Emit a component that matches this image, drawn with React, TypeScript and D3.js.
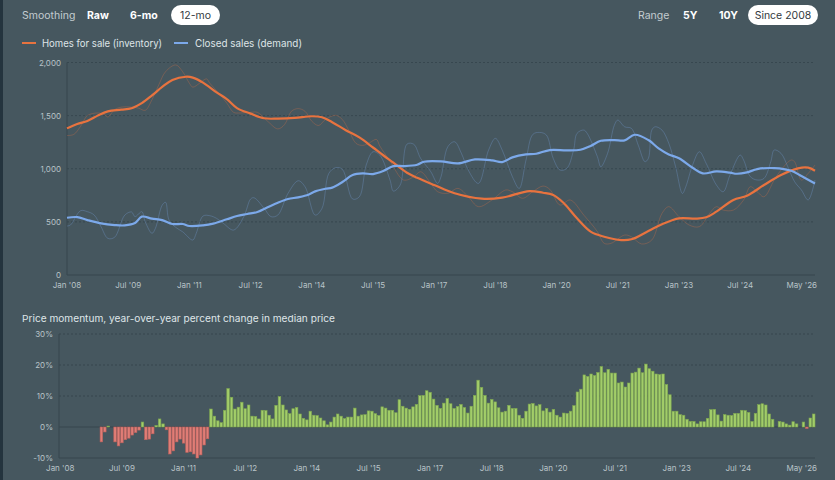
import * as d3 from 'd3';

// months counted from Jan 2008 (0) to May 2026 (220)
const inventorySmooth: [number, number][] = [
  [0, 1380], [3, 1422], [6, 1450], [9, 1500], [12, 1540], [16, 1556], [19, 1570], [22, 1618],
  [25, 1690], [28, 1770], [31, 1836], [35, 1866], [37, 1858], [40, 1811], [44, 1718], [47, 1656],
  [50, 1571], [54, 1519], [58, 1475], [62, 1472], [67, 1478], [72, 1494], [75, 1485], [78, 1438],
  [82, 1363], [86, 1295], [90, 1200], [93, 1127], [96, 1057], [100, 962], [103, 915], [108, 847],
  [114, 769], [122, 718], [128, 728], [136, 790], [140, 774], [143, 753], [146, 680], [150, 533],
  [154, 408], [158, 360], [163, 329], [166, 336], [171, 414], [175, 477], [180, 533], [185, 530],
  [188, 543], [191, 596], [196, 706], [200, 746], [205, 847], [210, 941], [215, 1004], [218, 1010],
  [220, 981],
];

const salesSmooth: [number, number][] = [
  [0, 539], [3, 545], [6, 517], [10, 486], [14, 470], [17, 467], [20, 489], [22, 549], [25, 530],
  [28, 517], [31, 480], [34, 480], [36, 461], [40, 467], [43, 483], [47, 524], [50, 555], [53, 574],
  [56, 593], [59, 637], [62, 680], [65, 715], [68, 731], [71, 755], [73, 787], [76, 812], [78, 822],
  [81, 875], [84, 941], [87, 956], [90, 950], [93, 978], [96, 1025], [99, 1025], [103, 1038],
  [105, 1066], [110, 1069], [115, 1050], [120, 1088], [125, 1079], [128, 1063], [131, 1107],
  [135, 1135], [138, 1141], [142, 1176], [147, 1173], [151, 1179], [154, 1214], [157, 1263],
  [161, 1270], [164, 1267], [167, 1320], [171, 1270], [174, 1192], [177, 1135], [180, 1098],
  [184, 1009], [187, 956], [191, 975], [195, 963], [197, 953], [200, 966], [203, 997], [208, 1006],
  [213, 981], [216, 931], [220, 862],
];

const inventoryRaw: [number, number][] = [
  [0, 1313], [2, 1323], [4, 1400], [6, 1500], [9, 1525], [11, 1510], [12, 1487], [14, 1556],
  [16, 1580], [19, 1580], [21, 1571], [23, 1550], [25, 1650], [27, 1790], [29, 1914], [32, 1977],
  [34, 1914], [36, 1805], [37, 1768], [39, 1805], [41, 1846], [42, 1805], [45, 1697], [47, 1618],
  [49, 1531], [51, 1525], [54, 1531], [56, 1531], [59, 1447], [62, 1375], [64, 1416], [66, 1541],
  [68, 1566], [70, 1541], [72, 1447], [74, 1407], [76, 1463], [79, 1503], [81, 1463], [83, 1354],
  [85, 1239], [87, 1220], [89, 1245], [91, 1276], [92, 1214], [95, 1073], [99, 894], [102, 925],
  [104, 972], [107, 862], [109, 784], [112, 769], [115, 815], [118, 737], [121, 643], [125, 706],
  [129, 800], [131, 784], [134, 722], [137, 784], [140, 837], [142, 806], [145, 658], [148, 706],
  [152, 564], [156, 408], [158, 298], [160, 298], [164, 376], [166, 360], [169, 292], [172, 329],
  [175, 580], [177, 643], [180, 549], [183, 470], [186, 455], [189, 580], [191, 643], [193, 611],
  [196, 611], [199, 706], [201, 831], [203, 784], [205, 736], [208, 894], [210, 988], [213, 1082],
  [214, 1066], [216, 894], [218, 956], [220, 1035],
];

const salesRaw: [number, number][] = [
  [0, 461], [1, 470], [4, 605], [6, 596], [8, 564], [10, 455], [12, 345], [14, 355], [17, 564],
  [19, 593], [20, 549], [22, 596], [23, 501], [25, 392], [26, 439], [28, 658], [29, 684], [30, 517],
  [32, 448], [34, 407], [37, 329], [38, 392], [40, 555], [42, 558], [44, 533], [46, 486], [49, 423],
  [52, 549], [54, 715], [55, 727], [58, 627], [60, 549], [62, 564], [65, 768], [68, 887], [70, 831],
  [73, 564], [75, 627], [77, 956], [79, 1010], [81, 994], [84, 715], [86, 737], [88, 1035],
  [90, 1160], [92, 1129], [95, 894], [96, 790], [98, 847], [100, 1232], [102, 1230], [104, 1098],
  [107, 972], [109, 862], [110, 925], [112, 1207], [114, 1254], [116, 1145], [118, 988], [121, 862],
  [124, 1176], [126, 1286], [128, 1176], [131, 925], [133, 815], [135, 1082], [137, 1323],
  [139, 1342], [141, 1317], [143, 1098], [145, 988], [147, 1003], [149, 1176], [150, 1333],
  [152, 1364], [153, 1333], [156, 1113], [157, 1019], [159, 1145], [161, 1411], [162, 1458],
  [164, 1395], [166, 1380], [168, 1223], [170, 1066], [171, 1098], [172, 1364], [173, 1395],
  [175, 1364], [177, 1239], [179, 1019], [181, 768], [182, 831], [184, 1035], [186, 1160],
  [188, 1050], [191, 847], [193, 784], [195, 941], [198, 1129], [199, 1082], [201, 925], [203, 894],
  [205, 909], [207, 1066], [208, 1176], [210, 1145], [212, 1019], [214, 878], [216, 800], [218, 706],
  [220, 894],
];

// year-over-year % change in median price, one value per month from Jan 2008
const momentum: (number | null)[] = [
  null, null, null, null, null, null, null, null, null, null, null, null,
  -4.8, -1.6, 0.3, 0, -4.8, -6.1, -5.1, -4.1, -3.6, -2.6, -1.8, -1.0,
  1.6, -4.1, -3.9, -2.2, 0.5, 2.6, 1.0, -0.9, -8.7, -7.7, -4.8, -3.9,
  -5.2, -8.2, -8.0, -8.7, -10.0, -9.0, -5.8, -3.8, 5.8, 3.5, 2.0, 1.4,
  5.4, 12.4, 9.6, 5.8, 6.4, 8.0, 5.9, 7.1, 3.5, 3.4, 2.6, 5.4,
  5.3, 3.8, 2.6, 7.0, 9.8, 7.1, 5.5, 4.3, 5.9, 6.3, 4.2, 2.8,
  2.3, 5.1, 3.8, 3.7, 2.9, 2.0, 0.7, 1.6, 3.2, 4.2, 3.5, 2.7,
  3.2, 3.2, 6.1, 3.5, 3.9, 4.0, 5.2, 5.1, 4.3, 3.7, 6.5, 6.1,
  5.4, 5.4, 4.6, 8.8, 6.7, 6.1, 5.7, 6.5, 7.3, 10.1, 10.2, 11.7,
  11.2, 9.0, 7.0, 6.0, 7.7, 9.2, 7.5, 6.0, 6.6, 7.3, 6.3, 4.5,
  6.7, 10.2, 15.1, 12.8, 10.2, 7.7, 8.9, 8.1, 6.2, 4.8, 5.1, 7.0,
  6.0, 6.0, 3.8, 2.8, 5.1, 7.4, 7.6, 6.8, 7.2, 5.2, 6.0, 4.8,
  5.7, 3.8, 3.2, 4.5, 4.4, 5.1, 6.9, 11.3, 12.2, 16.8, 16.3, 17.1,
  16.6, 17.6, 19.5, 17.5, 18.6, 17.4, 17.4, 14.2, 14.5, 12.9, 14.2, 17.4,
  17.7, 19.0, 17.5, 20.3, 18.8, 18.0, 17.1, 16.9, 17.1, 13.7, 10.4, 5.1,
  5.1, 4.0, 3.8, 2.5, 1.8, 1.8, 1.0, 1.7, 1.7, 2.8, 5.6, 5.7,
  3.9, 1.9, 4.0, 3.8, 3.7, 4.4, 4.4, 5.4, 5.3, 4.7, 1.8, 4.4,
  7.2, 7.5, 7.1, 4.2, 2.5, 0, 1.8, 1.6, 1.0, 0.6, 1.7, 1.0,
  0, 1.6, -0.5, 2.9, 4.2,
];

const tickMonths = [0, 18, 36, 54, 72, 90, 108, 126, 144, 162, 180, 198, 220];
const tickLabels = [
  "Jan '08", "Jul '09", "Jan '11", "Jul '12", "Jan '14", "Jul '15", "Jan '17",
  "Jul '18", "Jan '20", "Jul '21", "Jan '23", "Jul '24", "May '26",
];
const countTicks = [0, 500, 1000, 1500, 2000];
const pctTicks = [-10, 0, 10, 20, 30];

const W = 835;
const H = 480;
const BG = '#46575f';
const ORANGE = '#e8733f';
const BLUE = '#7ca9ea';
const GRID = '#37474f';
const TICK = '#b9c3c8';
const FONT = 'Inter, "Open Sans", sans-serif';

export default function App() {
  // top chart
  const x = d3.scaleLinear().domain([0, 220]).range([67, 815]);
  const y = d3.scaleLinear().domain([0, 2000]).range([275, 62.5]);
  const line = d3
    .line<[number, number]>()
    .x((d) => x(d[0]))
    .y((d) => y(d[1]))
    .curve(d3.curveCatmullRom.alpha(0.5));

  // bottom chart
  const xb = d3.scaleBand<number>().domain(d3.range(221)).range([59, 815]).paddingInner(0.25);
  const yb = d3.scaleLinear().domain([-10, 30]).range([458, 334]);

  const last = tickMonths.length - 1;

  return (
    <svg
      width={W}
      height={H}
      style={{ position: 'fixed', left: 0, top: 0, display: 'block' }}
      fontFamily={FONT}
    >
      <rect width={W} height={H} fill={BG} />
      <rect width={3} height={H} fill="#24343e" />

      {/* controls */}
      <text x={22} y={19} fontSize={10.5} fill="#c3ccd0">Smoothing</text>
      <text x={87} y={19} fontSize={10.5} fontWeight={700} fill="#ffffff">Raw</text>
      <text x={130} y={19} fontSize={10.5} fontWeight={700} fill="#ffffff">6-mo</text>
      <rect x={171} y={5} width={49} height={20} rx={10} fill="#ffffff" />
      <text x={195.5} y={19} fontSize={10.5} fill="#333a3e" textAnchor="middle">12-mo</text>

      <text x={638} y={19} fontSize={10.5} fill="#c3ccd0">Range</text>
      <text x={683} y={19} fontSize={10.5} fontWeight={700} fill="#ffffff">5Y</text>
      <text x={719} y={19} fontSize={10.5} fontWeight={700} fill="#ffffff">10Y</text>
      <rect x={748} y={5} width={70} height={20} rx={10} fill="#ffffff" />
      <text x={783} y={19} fontSize={10.5} fill="#333a3e" textAnchor="middle">Since 2008</text>

      {/* legend */}
      <line x1={22} x2={36} y1={43} y2={43} stroke={ORANGE} strokeWidth={2} />
      <text x={42} y={47} fontSize={10.5} fill="#dfe5e8" textLength={120} lengthAdjust="spacingAndGlyphs">
        Homes for sale (inventory)
      </text>
      <line x1={174} x2={188} y1={43} y2={43} stroke={BLUE} strokeWidth={2} />
      <text x={195} y={47} fontSize={10.5} fill="#dfe5e8" textLength={107} lengthAdjust="spacingAndGlyphs">
        Closed sales (demand)
      </text>

      {/* top grid and axes */}
      {countTicks.map((t) => (
        <g key={'c' + t}>
          {t > 0 && (
            <line x1={x(0)} x2={x(220)} y1={y(t)} y2={y(t)} stroke={GRID} strokeDasharray="2 2" />
          )}
          <text x={61} y={y(t) + 3} fontSize={8} fill={TICK} textAnchor="end">
            {d3.format(',')(t)}
          </text>
        </g>
      ))}
      <line x1={x(0)} x2={x(0)} y1={y(2000)} y2={y(0)} stroke={GRID} />
      <line x1={x(0)} x2={x(220)} y1={y(0)} y2={y(0)} stroke={GRID} />
      {tickMonths.map((m, i) => (
        <text
          key={'tx' + m}
          x={i === last ? x(m) + 2 : x(m)}
          y={288}
          fontSize={8}
          fill={TICK}
          textAnchor={i === last ? 'end' : 'middle'}
        >
          {tickLabels[i]}
        </text>
      ))}

      {/* lines */}
      <path d={line(inventoryRaw) ?? ''} fill="none" stroke={ORANGE} strokeOpacity={0.28} strokeWidth={1} />
      <path d={line(salesRaw) ?? ''} fill="none" stroke={BLUE} strokeOpacity={0.28} strokeWidth={1} />
      <path d={line(inventorySmooth) ?? ''} fill="none" stroke={ORANGE} strokeWidth={2.2} />
      <path d={line(salesSmooth) ?? ''} fill="none" stroke={BLUE} strokeWidth={2.2} />

      {/* bottom chart */}
      <text x={22} y={322} fontSize={9.5} fill="#dfe5e8" textLength={313} lengthAdjust="spacingAndGlyphs">
        Price momentum, year-over-year percent change in median price
      </text>
      {pctTicks.map((t) => (
        <g key={'p' + t}>
          {t > 0 && (
            <line x1={59} x2={815} y1={yb(t)} y2={yb(t)} stroke={GRID} strokeDasharray="2 2" />
          )}
          <text x={53} y={yb(t) + 3} fontSize={8} fill={TICK} textAnchor="end">
            {t}%
          </text>
        </g>
      ))}
      <line x1={59} x2={59} y1={yb(30)} y2={yb(-10)} stroke={GRID} />
      <line x1={59} x2={815} y1={yb(0)} y2={yb(0)} stroke={GRID} />
      <line x1={59} x2={815} y1={yb(-10)} y2={yb(-10)} stroke={GRID} />

      {momentum.map((v, i) =>
        v === null || v === 0 ? null : (
          <rect
            key={'b' + i}
            x={xb(i)}
            width={xb.bandwidth()}
            y={yb(Math.max(0, v))}
            height={Math.abs(yb(v) - yb(0))}
            fill={v > 0 ? '#a2cd69' : '#e07d76'}
            stroke={v > 0 ? '#7da650' : '#bd615c'}
            strokeWidth={0.6}
          />
        )
      )}

      {tickMonths.map((m, i) => (
        <text
          key={'bx' + m}
          x={i === last ? 817 : (xb(m) ?? 0) + xb.bandwidth() / 2}
          y={470.5}
          fontSize={8}
          fill={TICK}
          textAnchor={i === last ? 'end' : 'middle'}
        >
          {tickLabels[i]}
        </text>
      ))}
    </svg>
  );
}
